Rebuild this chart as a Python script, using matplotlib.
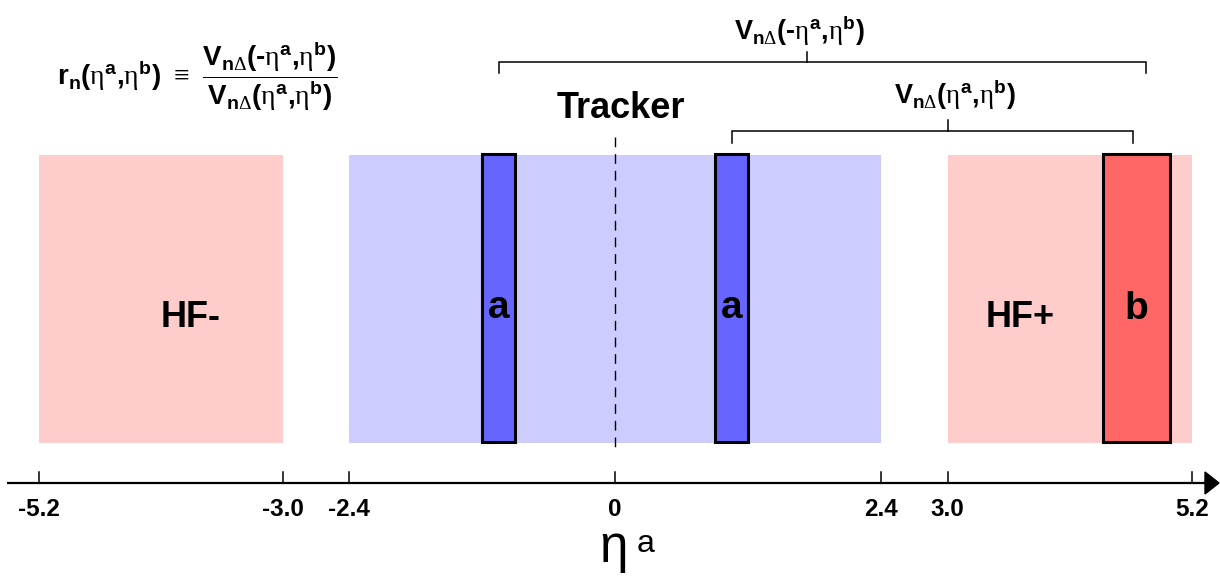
import matplotlib
matplotlib.use("Agg")
import matplotlib.pyplot as plt
from matplotlib.patches import Rectangle

# ---------------- data ----------------
detector_names = ["HF-", "Tracker", "HF+"]
detector_lo = [-5.2, -2.4, 3.0]
detector_hi = [-3.0, 2.4, 5.2]
detector_colors = ["#FFCCCC", "#CCCCFF", "#FFCCCC"]

eta_a_lo = [-1.2, 0.9]
eta_a_hi = [-0.9, 1.2]
eta_b_lo = [4.4]
eta_b_hi = [5.0]

tick_values = [-5.2, -3.0, -2.4, 0.0, 2.4, 3.0, 5.2]
tick_labels = ["-5.2", "-3.0", "-2.4", "0", "2.4", "3.0", "5.2"]

# ---------------- style / layout ----------------
plt.rcParams["font.family"] = ["Liberation Sans", "DejaVu Sans"]
plt.rcParams["mathtext.fontset"] = "custom"
plt.rcParams["mathtext.bf"] = "Liberation Sans:bold"
plt.rcParams["mathtext.rm"] = "Liberation Serif"
plt.rcParams["mathtext.sf"] = "Liberation Sans"
plt.rcParams["mathtext.it"] = "Liberation Sans:bold"

W, H = 1220, 579
XMIN, XMAX = -5.549, 5.455
PXU = W / (XMAX - XMIN)  # pixels per unit eta

fig = plt.figure(figsize=(W / 100, H / 100), dpi=100)
ax = fig.add_axes([0, 0, 1, 1])
ax.set_xlim(XMIN, XMAX)
ax.set_ylim(H, 0)
ax.axis("off")

BOX_TOP, BOX_BOT = 155, 443
AXIS_Y = 483

# detector regions
for lo, hi, c in zip(detector_lo, detector_hi, detector_colors):
    ax.add_patch(Rectangle((lo, BOX_TOP), hi - lo, BOX_BOT - BOX_TOP,
                           facecolor=c, edgecolor="none", zorder=1))

# eta^a bins
for lo, hi in zip(eta_a_lo, eta_a_hi):
    ax.add_patch(Rectangle((lo, BOX_TOP - 1), hi - lo, BOX_BOT - BOX_TOP,
                           facecolor="#6666FF", edgecolor="black",
                           linewidth=2.2, zorder=3))
    ax.text((lo + hi) / 2, 318, "a", ha="center", va="baseline",
            fontsize=28, fontweight="bold", zorder=4)

# eta^b bin
for lo, hi in zip(eta_b_lo, eta_b_hi):
    ax.add_patch(Rectangle((lo, BOX_TOP - 1), hi - lo, BOX_BOT - BOX_TOP,
                           facecolor="#FF6666", edgecolor="black",
                           linewidth=2.2, zorder=3))
    ax.text((lo + hi) / 2, 319, "b", ha="center", va="baseline",
            fontsize=28, fontweight="bold", zorder=4)

# detector labels
ax.text(-3.83, 327, "HF-", ha="center", va="baseline", fontsize=26, fontweight="bold")
ax.text(3.65, 327, "HF+", ha="center", va="baseline", fontsize=26, fontweight="bold")
ax.text(0.05, 117.5, "Tracker", ha="center", va="baseline", fontsize=26, fontweight="bold")

# dashed centre line
ax.plot([0, 0], [137, 448], color="black", linewidth=1.0,
        dashes=(7, 5), zorder=2)

# axis with arrow
ax.plot([XMIN + 7 / PXU, XMAX - 14 / PXU], [AXIS_Y, AXIS_Y],
        color="black", linewidth=1.6, solid_capstyle="butt", zorder=5)
ax.fill([XMAX - 15 / PXU, XMAX - 1 / PXU, XMAX - 15 / PXU],
        [AXIS_Y - 11, AXIS_Y, AXIS_Y + 11], color="black", zorder=5)

for v, lab in zip(tick_values, tick_labels):
    ax.plot([v, v], [AXIS_Y - 11, AXIS_Y], color="black", linewidth=1.1, zorder=5)
    ax.text(v, 516, lab, ha="center", va="baseline", fontsize=17.5,
            fontweight="bold")

# axis label
ax.text(-0.01, 562, "\u03b7", ha="center", va="baseline", fontsize=37,
        fontfamily=["Liberation Sans", "DejaVu Sans"])
ax.text(0.275, 552, "a", ha="center", va="baseline", fontsize=23)

# brackets
def bracket(x0, x1, xm, y, drop, rise, lw=1.1):
    ax.plot([x0, x0, x1, x1], [y + drop, y, y, y + drop], color="black",
            linewidth=lw, solid_joinstyle="miter")
    ax.plot([xm, xm], [y, y - rise], color="black", linewidth=lw)

bracket(-1.044, 4.784, 1.729, 62.3, 11, 10.5)
bracket(1.054, 4.668, 3.005, 131, 11.7, 11)

ETA = r"\mathrm{\eta}"
HY = "\u2010"
lab_top = (r"$\mathbf{V}_{\mathbf{n}\mathrm{\Delta}}\mathbf{(" + HY + "}" + ETA +
           r"^{\mathbf{a}}\mathbf{,}" + ETA + r"^{\mathbf{b}}\mathbf{)}$")
lab_mid = (r"$\mathbf{V}_{\mathbf{n}\mathrm{\Delta}}\mathbf{(}" + ETA +
           r"^{\mathbf{a}}\mathbf{,}" + ETA + r"^{\mathbf{b}}\mathbf{)}$")
ax.text(1.66, 40, lab_top, ha="center", va="baseline", fontsize=19.5)
ax.text(3.06, 104, lab_mid, ha="center", va="baseline", fontsize=19.5)

# ratio formula
num = (r"\mathbf{V}_{\mathbf{n}\mathrm{\Delta}}\mathbf{(" + HY + "}" + ETA +
       r"^{\mathbf{a}}\mathbf{,}" + ETA + r"^{\mathbf{b}}\mathbf{)}")
den = (r"\mathbf{V}_{\mathbf{n}\mathrm{\Delta}}\mathbf{(}" + ETA +
       r"^{\mathbf{a}}\mathbf{,}" + ETA + r"^{\mathbf{b}}\mathbf{)}")
formula = (r"$\mathbf{r}_{\mathbf{n}}\mathbf{(}" + ETA + r"^{\mathbf{a}}\mathbf{,}" +
           ETA + r"^{\mathbf{b}}\mathbf{)}\ \equiv\ \dfrac{" + num + "}{" + den + "}$")
ax.text(XMIN + 57 / PXU, 85, formula, ha="left", va="baseline", fontsize=20)

fig.savefig("out.png", dpi=100)
